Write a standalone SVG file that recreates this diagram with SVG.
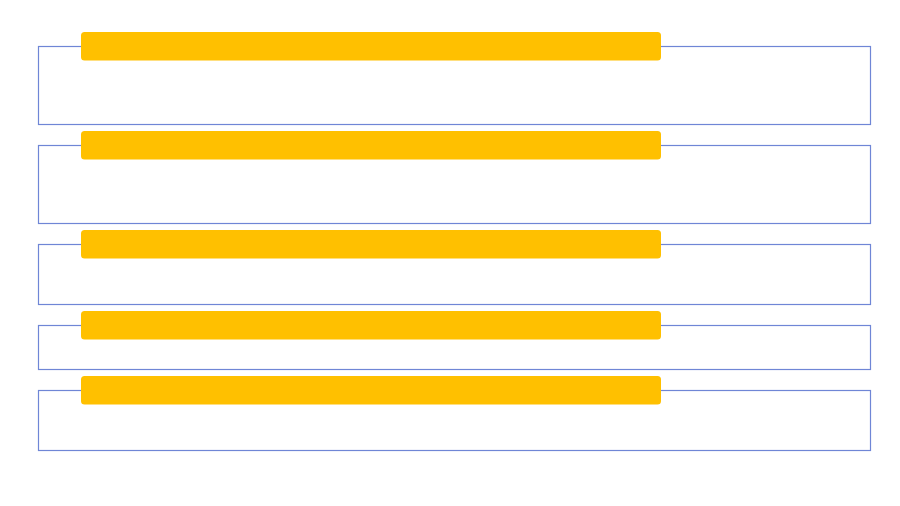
<svg xmlns="http://www.w3.org/2000/svg" width="900" height="506" viewBox="0 0 900 506">
<style>
.frame{fill:none;stroke:#6f86d6;stroke-width:1.2}
.bar{fill:#ffc000}
</style>
<rect width="900" height="506" fill="#fff"/>
<g id="node1"><rect class="frame" x="38.5" y="46.5" width="832" height="78"/><rect class="bar" x="81" y="32" width="580" height="28.5" rx="3.5"/></g>
<g id="node2"><rect class="frame" x="38.5" y="145.5" width="832" height="78"/><rect class="bar" x="81" y="131" width="580" height="28.5" rx="3.5"/></g>
<g id="node3"><rect class="frame" x="38.5" y="244.5" width="832" height="60"/><rect class="bar" x="81" y="230" width="580" height="28.5" rx="3.5"/></g>
<g id="node4"><rect class="frame" x="38.5" y="325.5" width="832" height="44"/><rect class="bar" x="81" y="311" width="580" height="28.5" rx="3.5"/></g>
<g id="node5"><rect class="frame" x="38.5" y="390.5" width="832" height="60"/><rect class="bar" x="81" y="376" width="580" height="28.5" rx="3.5"/></g>
<g id="connectors"></g>
</svg>
